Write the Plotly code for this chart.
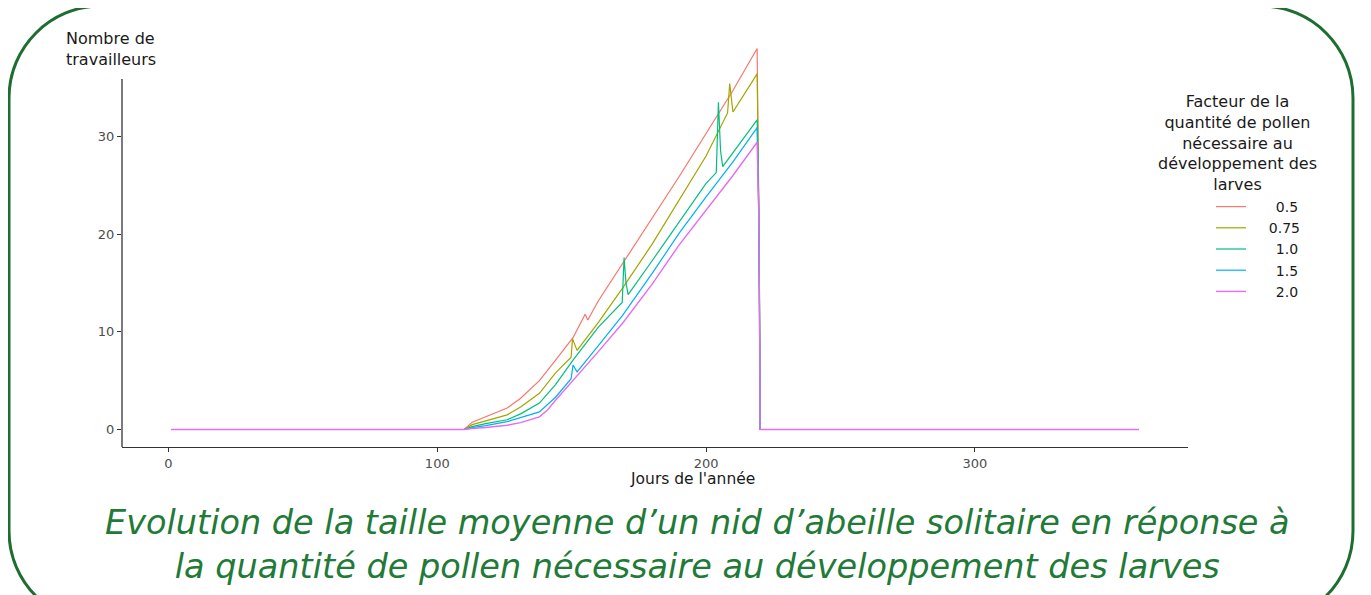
import plotly.graph_objects as go

# ---------------- data ----------------
series_names = ["0.5", "0.75", "1.0", "1.5", "2.0"]

days_05 = [1, 110, 113, 118, 126, 131, 138, 144, 150.5, 155, 156, 160, 165, 175, 190, 200, 210, 219, 219.6, 220, 220.1, 361]
vals_05 = [0, 0, 0.75, 1.3, 2.2, 3.2, 5.0, 7.1, 9.4, 11.8, 11.2, 13.2, 15.3, 19.6, 25.9, 30.3, 34.7, 39.0, 24.0, 9.8, 0, 0]

days_075 = [1, 110, 113, 118, 126, 131, 138, 144, 149.8, 150.3, 152, 160, 169, 180, 190, 200, 208, 208.8, 210, 219, 219.6, 220, 220.1, 361]
vals_075 = [0, 0, 0.5, 0.9, 1.5, 2.3, 3.7, 5.8, 7.4, 9.3, 8.1, 11.0, 14.5, 19.0, 23.5, 28.0, 32.4, 35.4, 32.5, 36.4, 23.8, 9.0, 0, 0]

days_10 = [1, 110, 113, 118, 126, 131, 138, 144, 150.5, 160, 168.8, 169.5, 170.2, 171, 180, 190, 200, 203.8, 204.6, 205.4, 206.2, 219, 219.6, 220, 220.1, 361]
vals_10 = [0, 0, 0.3, 0.6, 1.0, 1.6, 2.7, 4.6, 7.1, 10.5, 13.0, 17.6, 15.0, 13.8, 17.3, 21.3, 25.2, 26.3, 33.5, 28.5, 26.9, 31.7, 22.8, 8.5, 0, 0]

days_15 = [1, 110, 113, 118, 126, 131, 138, 144, 149.8, 150.5, 152, 160, 169, 180, 190, 200, 210, 219, 219.6, 220, 220.1, 361]
vals_15 = [0, 0, 0.2, 0.4, 0.8, 1.2, 1.8, 3.3, 5.2, 6.6, 5.9, 8.6, 11.7, 16.0, 20.1, 23.8, 27.4, 30.9, 22.2, 7.3, 0, 0]

days_20 = [1, 110, 113, 118, 126, 131, 138, 141, 144, 150.5, 160, 169, 180, 190, 200, 210, 219, 219.6, 220, 220.1, 361]
vals_20 = [0, 0, 0.1, 0.2, 0.44, 0.7, 1.3, 2.0, 3.0, 5.0, 8.0, 10.9, 14.9, 18.9, 22.5, 26.0, 29.4, 22.0, 8.0, 0, 0]

x_ticks = [0, 100, 200, 300]
y_ticks = [0, 10, 20, 30]

# ---------------- styling ----------------
colors = ["#F8766D", "#A3A500", "#00BF7D", "#00B0F6", "#E76BF3"]
widths = [1.2, 1.2, 1.2, 1.2, 1.4]
W, H = 1371, 595
OFF = 8                                   # page body margin
L, R, T, B = 122, 1188, 40, 447           # plot area in screen pixels
XR = [-17.3, 379.3]
YR = [-1.791, 39.867]

def px2x(px):
    return (px - L) / (R - L)

def px2y(py):
    return (B - py) / (B - T)

fig = go.Figure()
all_days = [days_05, days_075, days_10, days_15, days_20]
all_vals = [vals_05, vals_075, vals_10, vals_15, vals_20]
pad = "\u00a0" * 4
for name, d, v, c, w in zip(series_names, all_days, all_vals, colors, widths):
    label = pad + ("\u2002" + name if len(name) == 3 else name)
    fig.add_trace(go.Scatter(x=d, y=v, mode="lines", name=label,
                             line=dict(color=c, width=w)))

# rounded green frame
lft, rgt, top, bot, rad = 9, 1353, 6, 623, 92
k = 0.5523 * rad
def P(x, y):
    return f"{px2x(x):.5f},{px2y(y):.5f}"
path = (f"M {P(lft + rad, top)} L {P(rgt - rad, top)} "
        f"C {P(rgt - rad + k, top)} {P(rgt, top + rad - k)} {P(rgt, top + rad)} "
        f"L {P(rgt, bot - rad)} "
        f"C {P(rgt, bot - rad + k)} {P(rgt - rad + k, bot)} {P(rgt - rad, bot)} "
        f"L {P(lft + rad, bot)} "
        f"C {P(lft + rad - k, bot)} {P(lft, bot - rad + k)} {P(lft, bot - rad)} "
        f"L {P(lft, top + rad)} "
        f"C {P(lft, top + rad - k)} {P(lft + rad - k, top)} {P(lft + rad, top)} Z")
fig.add_shape(type="path", path=path, xref="paper", yref="paper",
              line=dict(color="#1f6e31", width=3), layer="above")

# y axis line (shorter than plot area)
fig.add_shape(type="line", xref="paper", yref="paper",
              x0=0, x1=0, y0=0, y1=px2y(79),
              line=dict(color="#333333", width=1.3))

font_main = "DejaVu Sans, sans-serif"
fig.add_annotation(text="Nombre de<br>travailleurs", xref="paper", yref="paper",
                   x=px2x(64), y=px2y(27), xanchor="left", yanchor="top",
                   align="left", showarrow=False,
                   font=dict(family=font_main, size=16, color="#1a1a1a"))
fig.add_annotation(text="Jours de l'année", xref="paper", yref="paper",
                   x=px2x(692), y=px2y(479), xanchor="center", yanchor="middle",
                   showarrow=False,
                   font=dict(family=font_main, size=15.5, color="#1a1a1a"))
fig.add_annotation(text="Facteur de la<br>quantité de pollen<br>nécessaire au<br>développement des<br>larves",
                   xref="paper", yref="paper", x=px2x(1237), y=px2y(90),
                   xanchor="center", yanchor="top", align="center", showarrow=False,
                   font=dict(family=font_main, size=16, color="#1a1a1a"))
fig.add_annotation(text="<i>Evolution de la taille moyenne d\u2019un nid d\u2019abeille solitaire en réponse à<br>la quantité de pollen nécessaire au développement des larves</i>",
                   xref="paper", yref="paper", x=px2x(697), y=px2y(544),
                   xanchor="center", yanchor="middle", align="center", showarrow=False,
                   font=dict(family="DejaVu Sans, sans-serif", size=33.5, color="#217a37"))

fig.update_layout(
    width=W, height=H,
    margin=dict(l=L - OFF, r=W - (R - OFF), t=T - OFF, b=H - (B - OFF), pad=0),
    paper_bgcolor="white", plot_bgcolor="white",
    showlegend=True,
    legend=dict(x=px2x(1211), y=px2y(191), xanchor="left", yanchor="top",
                font=dict(family=font_main, size=14, color="#1a1a1a"),
                bgcolor="rgba(0,0,0,0)", borderwidth=0, tracegroupgap=0),
    xaxis=dict(range=XR, tickvals=x_ticks, ticktext=[str(t) for t in x_ticks],
               showgrid=False, zeroline=False, showline=True,
               linecolor="#333333", linewidth=1.3,
               ticks="outside", ticklen=4, tickcolor="#333333",
               tickfont=dict(family=font_main, size=13, color="#4d4d4d")),
    yaxis=dict(range=YR, tickvals=y_ticks, ticktext=[str(t) for t in y_ticks],
               showgrid=False, zeroline=False, showline=False,
               ticks="outside", ticklen=4, tickcolor="#333333",
               tickfont=dict(family=font_main, size=13, color="#4d4d4d")),
)

fig.write_html("out.html")
